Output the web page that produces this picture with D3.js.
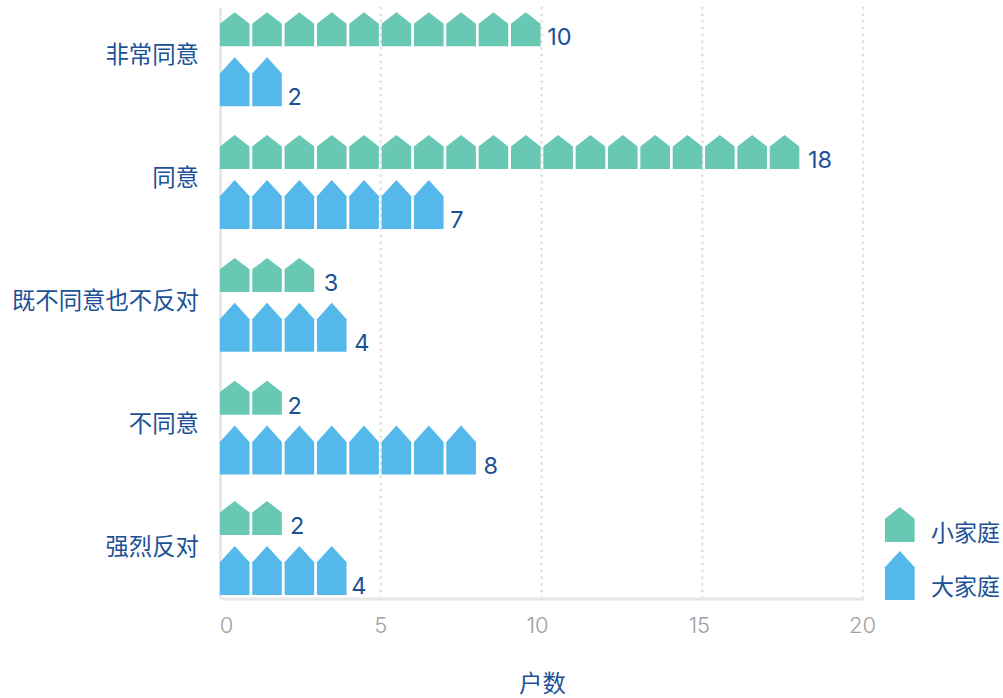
<!DOCTYPE html>
<html>
<head>
<meta charset="utf-8">
<script src="https://cdn.jsdelivr.net/npm/d3@7"></script>
<style>
    html, body { margin: 0; padding: 0; background: #fff; }
    text { font-family: "Inter", "Noto Sans CJK SC", sans-serif; }
    .cjk { font-family: "Noto Sans CJK SC", sans-serif; }
</style>
</head>
<body>
<div id="chart"></div>
<script>
// Data.
const categories = ["非常同意", "同意", "既不同意也不反对", "不同意", "强烈反对"];
const smallFamily = [10, 18, 3, 2, 2];
const bigFamily = [2, 7, 4, 8, 4];
const seriesNames = ["小家庭", "大家庭"];
const xTicks = [0, 5, 10, 15, 20];
const xTitle = "户数";

const width = 1003;
const height = 698;
const labelColor = "#1d5196";
const colors = ["#69c8b4", "#54b8ea"];

let svg = d3.select("#chart")
    .append("svg")
    .attr("width", width)
    .attr("height", height)
    .style("display", "block");

let x = d3.scaleLinear().domain([0, 20]).range([220.5, 863.5]);
let y = d3.scaleBand().domain(categories).range([-6.4, 607.6]);

// Grid lines, dotted, no line at zero.
svg.append("g")
    .selectAll("line")
    .data(xTicks.slice(1))
    .enter()
    .append("line")
    .attr("x1", d => x(d) - 0.4)
    .attr("x2", d => x(d) - 0.4)
    .attr("y1", 8)
    .attr("y2", 598)
    .attr("stroke", "#dedede")
    .attr("stroke-width", 2.6)
    .attr("stroke-linecap", "round")
    .attr("stroke-dasharray", "0.1 6.6");

// Axis lines.
svg.append("line")
    .attr("x1", x(0))
    .attr("x2", x(0))
    .attr("y1", 8)
    .attr("y2", 599)
    .attr("stroke", "#e8e8e8")
    .attr("stroke-width", 3);

// Tick labels are not quite centred on their ticks in the original.
const tickDx = { 0: 5.5, 5: -1, 10: -5, 15: -4, 20: -1.5 };

let xAxis = d3.axisBottom(x).tickValues(xTicks).tickSize(0).tickPadding(19);
let axisG = svg.append("g")
    .attr("transform", "translate(0,598.5)")
    .call(xAxis);
axisG.select(".domain").attr("stroke", "#e8e8e8").attr("stroke-width", 3);
axisG.selectAll("text")
    .attr("font-size", 22)
    .attr("font-weight", 300)
    .attr("fill", "#a0a0a0")
    .style("font-family", "Inter, sans-serif")
    .attr("dx", d => tickDx[d]);

// House shaped icon, roof takes the top third.
function housePath(px, bottom, w, h) {
    let roof = h / 3;
    return d3.line()([
        [px, bottom],
        [px, bottom - h + roof],
        [px + w / 2, bottom - h],
        [px + w, bottom - h + roof],
        [px + w, bottom]
    ]) + "Z";
}

const iconW = 29.6;
const iconStep = 1.006; // icons repeat slightly wider than one axis unit
const iconLeft = -0.6; // icons start just inside the axis line
const lastRowShift = -2.4; // last row sits a bit closer to the one above

const rows = [
    { values: smallFamily, offset: -8.7, h: 34, color: colors[0], labelDx: [7, 9, 10, 6, 8.5] },
    { values: bigFamily, offset: 51.2, h: 49, color: colors[1], labelDx: [6, 7, 8, 8, 5] }
];

rows.forEach(row => {
    categories.forEach((cat, c) => {
        let shift = c === categories.length - 1 ? lastRowShift : 0;
        let bottom = y(cat) + y.bandwidth() / 2 + row.offset + shift;
        let n = row.values[c];

        svg.append("g")
            .selectAll("path")
            .data(d3.range(n))
            .enter()
            .append("path")
            .attr("d", i => housePath(x(i * iconStep) + iconLeft, bottom, iconW, row.h))
            .attr("fill", row.color);

        // Value label at the end of each row.
        svg.append("text")
            .attr("x", x((n - 1) * iconStep) + iconW + row.labelDx[c] - 1)
            .attr("y", bottom - 1)
            .attr("font-size", 23.5)
            .attr("font-weight", 400)
            .attr("fill", labelColor)
            .text(n);
    });
});

// Category labels.
svg.append("g")
    .selectAll("text")
    .data(categories)
    .enter()
    .append("text")
    .attr("class", "cjk")
    .attr("x", 199)
    .attr("y", d => y(d) + y.bandwidth() / 2)
    .attr("dy", "0.36em")
    .attr("text-anchor", "end")
    .attr("font-size", 23.4)
    .attr("fill", labelColor)
    .text(d => d);

// Axis title.
svg.append("text")
    .attr("class", "cjk")
    .attr("x", 542.5)
    .attr("y", 692)
    .attr("text-anchor", "middle")
    .attr("font-size", 23.4)
    .attr("fill", labelColor)
    .text(xTitle);

// Legend.
const legendBottoms = [542, 600];
const legendHeights = [35, 49];
seriesNames.forEach((name, i) => {
    svg.append("path")
        .attr("d", housePath(885, legendBottoms[i], iconW, legendHeights[i]))
        .attr("fill", colors[i]);
    svg.append("text")
        .attr("class", "cjk")
        .attr("x", 931)
        .attr("y", legendBottoms[i] - 9 - i * 4)
        .attr("dy", "0.36em")
        .attr("font-size", 23)
        .attr("fill", labelColor)
        .text(name);
});
</script>
</body>
</html>
